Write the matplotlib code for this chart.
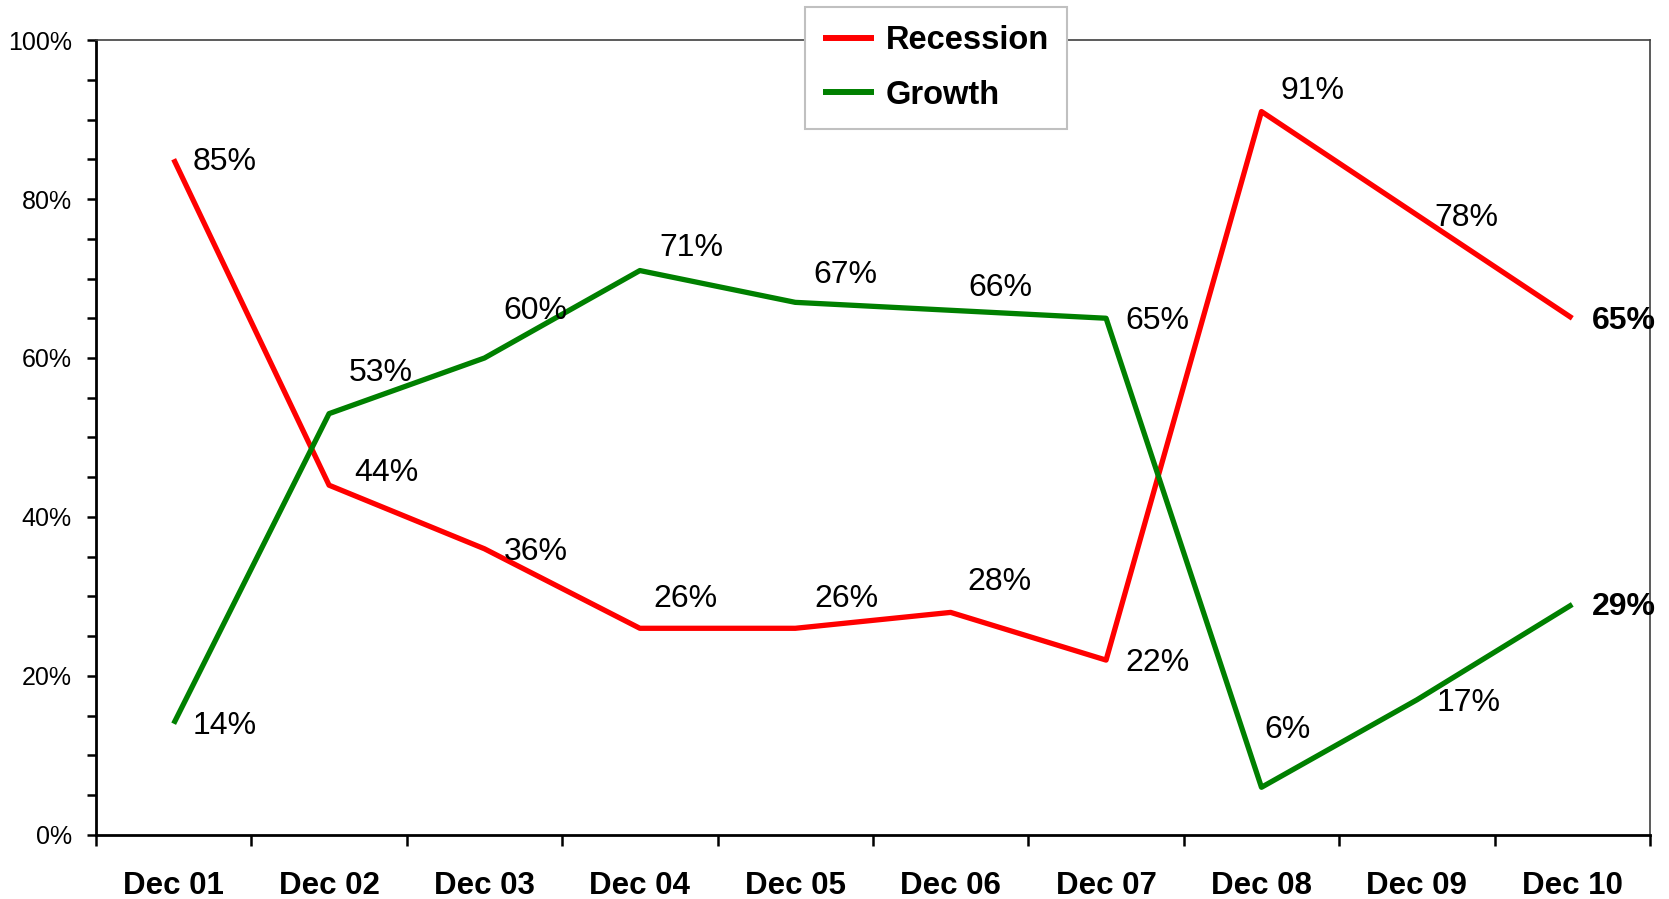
import matplotlib
matplotlib.use("Agg")
import matplotlib.pyplot as plt
from matplotlib.ticker import FixedLocator, NullFormatter, FuncFormatter, MultipleLocator

plt.rcParams["font.family"] = ["Liberation Sans", "DejaVu Sans"]

categories = ["Dec 01", "Dec 02", "Dec 03", "Dec 04", "Dec 05",
              "Dec 06", "Dec 07", "Dec 08", "Dec 09", "Dec 10"]
recession = [85, 44, 36, 26, 26, 28, 22, 91, 78, 65]
growth = [14, 53, 60, 71, 67, 66, 65, 6, 17, 29]

# label offsets in points (dx, dy)
rec_offsets = [(37, -2), (41, 9), (37, -2), (33, 21), (37, 21),
               (35, 22), (37, -2), (37, 15), (36, -2), (37, -2)]
gro_offsets = [(37, -2), (37, 29), (37, 34), (37, 16), (36, 20),
               (36, 16), (37, -2), (19, 41), (37, -2), (37, -2)]

RED = "#FF0000"
GREEN = "#008000"

fig = plt.figure(figsize=(16.69, 8.99), dpi=100)
ax = fig.add_axes([0.0575, 0.0712, 0.9311, 0.8843])

xs = [i + 0.5 for i in range(len(categories))]
ax.plot(xs, recession, color=RED, lw=3.8, label="Recession", solid_capstyle="butt", zorder=3)
ax.plot(xs, growth, color=GREEN, lw=3.8, label="Growth", solid_capstyle="butt", zorder=3)

last = len(categories) - 1
for series, offs in ((recession, rec_offsets), (growth, gro_offsets)):
    for i, (x, v) in enumerate(zip(xs, series)):
        ax.annotate(f"{v}%", (x, v), xytext=offs[i], textcoords="offset points",
                    ha="center", va="center", fontsize=23,
                    fontweight="bold" if i == last else "normal", zorder=4)

ax.set_xlim(0, len(categories))
ax.set_ylim(0, 100)

# ticks between categories, labels centred on them
ax.xaxis.set_major_locator(FixedLocator(range(len(categories) + 1)))
ax.xaxis.set_major_formatter(NullFormatter())
ax.xaxis.set_minor_locator(FixedLocator(xs))
ax.set_xticklabels(categories, minor=True, fontsize=22.5, fontweight="bold")
ax.tick_params(axis="x", which="major", direction="out", length=8, width=1.8, color="black")
ax.tick_params(axis="x", which="minor", length=0, pad=26)

ax.yaxis.set_major_locator(MultipleLocator(20))
ax.yaxis.set_minor_locator(MultipleLocator(5))
ax.yaxis.set_major_formatter(FuncFormatter(lambda v, p: f"{int(v)}%"))
ax.tick_params(axis="y", which="both", direction="out", length=6.5, width=1.8, color="black")
ax.tick_params(axis="y", which="major", labelsize=18, pad=11)

for side in ("left", "bottom"):
    ax.spines[side].set_color("black")
    ax.spines[side].set_linewidth(2.0)
for side in ("top", "right"):
    ax.spines[side].set_color("#404040")
    ax.spines[side].set_linewidth(1.2)

leg = ax.legend(loc="upper center", bbox_to_anchor=(0.5405, 1.041), frameon=True,
                fancybox=False, framealpha=1, edgecolor="#C0C0C0",
                prop={"weight": "bold", "size": 23.5}, handlelength=1.57,
                handletextpad=0.35, labelspacing=0.72, borderpad=0.55, borderaxespad=0)
leg.get_frame().set_linewidth(1.5)
for h in leg.legend_handles:
    h.set_linewidth(4.3)
leg.set_zorder(5)

fig.savefig("out.png", dpi=100, facecolor="white")
